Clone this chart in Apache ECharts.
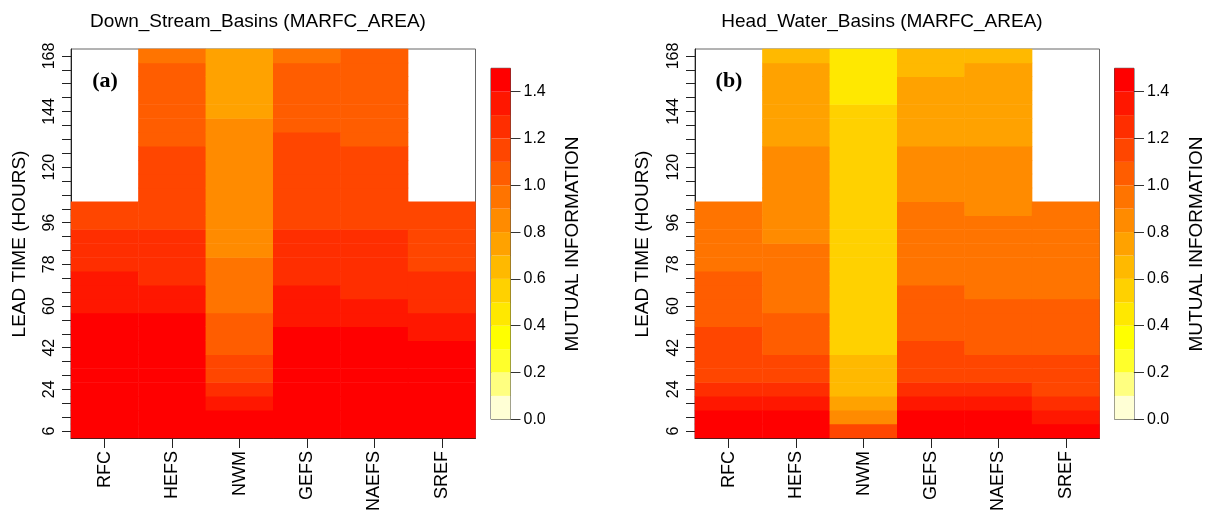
<!DOCTYPE html>
<html>
<head>
<meta charset="utf-8">
<title>Mutual information by lead time</title>
<script src="https://cdn.jsdelivr.net/npm/echarts@6/dist/echarts.min.js"></script>
<style>
  html, body { margin: 0; padding: 0; background: #ffffff; }
  #chart { width: 1211px; height: 514px; }
</style>
</head>
<body>
<div id="chart"></div>
<script>
// Forecast systems (columns) and lead times in hours (rows, bottom to top)
const systems = ['RFC', 'HEFS', 'NWM', 'GEFS', 'NAEFS', 'SREF'];
const leadTimes = [6, 12, 18, 24, 30, 36, 42, 48, 54, 60, 66, 72, 78, 84, 90, 96,
                   102, 108, 114, 120, 126, 132, 138, 144, 150, 156, 162, 168];
const leadTimeLabels = [6, 24, 42, 60, 78, 96, 120, 144, 168];
const colorbarTicks = [0.0, 0.2, 0.4, 0.6, 0.8, 1.0, 1.2, 1.4];

// Mutual information, Down_Stream_Basins, one value per lead time (6 h ... 168 h)
const dsRFC   = [1.45,1.45,1.45,1.45,1.45,1.45,1.45,1.45,1.45,1.35,1.35,1.35,1.25,1.25,1.25,1.15,1.15,
                 null,null,null,null,null,null,null,null,null,null,null];
const dsHEFS  = [1.45,1.45,1.45,1.45,1.45,1.45,1.45,1.45,1.45,1.35,1.35,1.25,1.25,1.25,1.25,1.15,1.15,
                 1.15,1.15,1.15,1.15,1.05,1.05,1.05,1.05,1.05,1.05,0.95];
const dsNWM   = [1.45,1.45,1.35,1.25,1.15,1.15,1.05,1.05,1.05,0.95,0.95,0.95,0.95,0.85,0.85,0.85,0.85,
                 0.85,0.85,0.85,0.85,0.85,0.85,0.75,0.75,0.75,0.75,0.75];
const dsGEFS  = [1.45,1.45,1.45,1.45,1.45,1.45,1.45,1.45,1.35,1.35,1.35,1.25,1.25,1.25,1.25,1.15,1.15,
                 1.15,1.15,1.15,1.15,1.15,1.05,1.05,1.05,1.05,1.05,0.95];
const dsNAEFS = [1.45,1.45,1.45,1.45,1.45,1.45,1.45,1.45,1.35,1.35,1.25,1.25,1.25,1.25,1.25,1.15,1.15,
                 1.15,1.15,1.15,1.15,1.05,1.05,1.05,1.05,1.05,1.05,1.05];
const dsSREF  = [1.45,1.45,1.45,1.45,1.45,1.45,1.45,1.35,1.35,1.25,1.25,1.25,1.15,1.15,1.15,1.15,1.15,
                 null,null,null,null,null,null,null,null,null,null,null];

// Mutual information, Head_Water_Basins
const hwRFC   = [1.45,1.45,1.35,1.25,1.15,1.15,1.15,1.15,1.05,1.05,1.05,1.05,0.95,0.95,0.95,0.95,0.95,
                 null,null,null,null,null,null,null,null,null,null,null];
const hwHEFS  = [1.45,1.45,1.35,1.25,1.15,1.15,1.05,1.05,1.05,0.95,0.95,0.95,0.95,0.95,0.85,0.85,0.85,
                 0.85,0.85,0.85,0.85,0.75,0.75,0.75,0.75,0.75,0.75,0.65];
const hwNWM   = [1.15,0.85,0.75,0.65,0.65,0.65,0.55,0.55,0.55,0.55,0.55,0.55,0.55,0.55,0.55,0.55,0.55,
                 0.55,0.55,0.55,0.55,0.55,0.55,0.55,0.45,0.45,0.45,0.45];
const hwGEFS  = [1.45,1.45,1.35,1.25,1.15,1.15,1.15,1.05,1.05,1.05,1.05,0.95,0.95,0.95,0.95,0.95,0.95,
                 0.85,0.85,0.85,0.85,0.75,0.75,0.75,0.75,0.75,0.65,0.65];
const hwNAEFS = [1.45,1.45,1.35,1.25,1.15,1.15,1.05,1.05,1.05,1.05,0.95,0.95,0.95,0.95,0.95,0.95,0.85,
                 0.85,0.85,0.85,0.85,0.75,0.75,0.75,0.75,0.75,0.75,0.65];
const hwSREF  = [1.45,1.35,1.25,1.15,1.15,1.15,1.05,1.05,1.05,1.05,0.95,0.95,0.95,0.95,0.95,0.95,0.95,
                 null,null,null,null,null,null,null,null,null,null,null];

// Colour levels 0.0-1.5 in steps of 0.1 (light cream -> red)
const levelBreaks = [0.0, 0.1, 0.2, 0.3, 0.4, 0.5, 0.6, 0.7, 0.8, 0.9, 1.0, 1.1, 1.2, 1.3, 1.4, 1.5];
const palette = ['#FFFFD5', '#FFFF80', '#FFFF2B', '#FFFF00', '#FFE800', '#FFD100', '#FFB900', '#FFA200',
                 '#FF8B00', '#FF7400', '#FF5D00', '#FF4600', '#FF2E00', '#FF1700', '#FF0000'];

const FONT = '"Liberation Sans", Arial, Helvetica, sans-serif';

function cells(columns) {
  const out = [];
  columns.forEach((col, c) => {
    col.forEach((v, r) => { if (v !== null) out.push([c, r, v]); });
  });
  return out;
}

const pieces = palette.map((color, i) => (
  i === palette.length - 1
    ? { gte: levelBreaks[i], lte: levelBreaks[i + 1], color }
    : { gte: levelBreaks[i], lt: levelBreaks[i + 1], color }
));

const colorbarData = palette.map((_, i) => [0, levelBreaks[i], levelBreaks[i + 1], i]);

const panels = [
  { left: 71,  barLeft: 491 },
  { left: 695, barLeft: 1114.5 }
];

const grids = [], xAxes = [], yAxes = [];
panels.forEach((p) => {
  grids.push({ left: p.left, top: 49, width: 404.5, height: 389, show: true,
               borderColor: '#666', borderWidth: 1, backgroundColor: 'transparent' });
  grids.push({ left: p.barLeft, top: 68.3, width: 19.5, height: 351, show: true,
               borderColor: '#444', borderWidth: 1, backgroundColor: 'transparent' });
});

[0, 2].forEach((g) => {
  xAxes.push({
    type: 'category', gridIndex: g, data: systems, boundaryGap: true,
    axisLine: { show: true, lineStyle: { color: '#222', width: 1 } },
    axisTick: { show: true, alignWithLabel: true, length: 10, lineStyle: { color: '#222' } },
    axisLabel: { rotate: 90, margin: 13, color: '#000', fontFamily: FONT, fontSize: 18 },
    splitLine: { show: false }
  });
  yAxes.push({
    type: 'category', gridIndex: g, data: leadTimes.map(String), boundaryGap: true,
    axisLine: { show: true, lineStyle: { color: '#222', width: 1 } },
    axisTick: { show: true, alignWithLabel: true, interval: 0, length: 9, lineStyle: { color: '#222' } },
    axisLabel: {
      rotate: 90, margin: 13, color: '#000', fontFamily: FONT, fontSize: 16,
      interval: (idx, value) => leadTimeLabels.includes(Number(value))
    },
    splitLine: { show: false }
  });
  xAxes.push({
    type: 'category', gridIndex: g + 1, data: [''], boundaryGap: true,
    axisLine: { show: false }, axisTick: { show: false }, axisLabel: { show: false }
  });
  yAxes.push({
    type: 'value', gridIndex: g + 1, min: 0, max: 1.5, position: 'right',
    axisLine: { show: false },
    axisTick: { show: true, length: 10, customValues: colorbarTicks, lineStyle: { color: '#333' } },
    axisLabel: { customValues: colorbarTicks, margin: 13, color: '#000', fontFamily: FONT, fontSize: 16,
                 formatter: (v) => v.toFixed(1) },
    splitLine: { show: false }
  });
});

function colorbarSeries(axisIdx) {
  return {
    type: 'custom', xAxisIndex: axisIdx, yAxisIndex: axisIdx, silent: true,
    data: colorbarData, encode: { x: 0, y: [1, 2] },
    renderItem: (params, api) => {
      const lo = api.coord([0, api.value(1)]);
      const hi = api.coord([0, api.value(2)]);
      const w = api.size([1, 0])[0];
      return { type: 'rect',
               shape: { x: lo[0] - w / 2, y: hi[1], width: w, height: lo[1] - hi[1] },
               style: { fill: palette[api.value(3)], stroke: null } };
    }
  };
}

function textEl(text, x, y, size, opts) {
  return Object.assign({
    type: 'text', x, y, silent: true,
    style: { text, fill: '#000', font: size + 'px ' + FONT,
             textAlign: 'center', textVerticalAlign: 'middle', align: 'center', verticalAlign: 'middle' }
  }, opts || {});
}

const option = {
  backgroundColor: '#ffffff',
  animation: false,
  grid: grids,
  xAxis: xAxes,
  yAxis: yAxes,
  visualMap: { type: 'piecewise', show: false, seriesIndex: [0, 1], dimension: 2, pieces },
  series: [
    { type: 'heatmap', xAxisIndex: 0, yAxisIndex: 0,
      data: cells([dsRFC, dsHEFS, dsNWM, dsGEFS, dsNAEFS, dsSREF]) },
    { type: 'heatmap', xAxisIndex: 2, yAxisIndex: 2,
      data: cells([hwRFC, hwHEFS, hwNWM, hwGEFS, hwNAEFS, hwSREF]) },
    colorbarSeries(1),
    colorbarSeries(3)
  ],
  graphic: [
    textEl('Down_Stream_Basins (MARFC_AREA)', 258, 22, 19),
    textEl('Head_Water_Basins (MARFC_AREA)', 882, 22, 19),
    textEl('LEAD TIME (HOURS)', 20, 244, 19, { rotation: Math.PI / 2 }),
    textEl('LEAD TIME (HOURS)', 643, 244, 19, { rotation: Math.PI / 2 }),
    textEl('MUTUAL INFORMATION', 573, 244, 19, { rotation: Math.PI / 2 }),
    textEl('MUTUAL INFORMATION', 1197, 244, 19, { rotation: Math.PI / 2 }),
    { type: 'text', x: 105, y: 81, silent: true,
      style: { text: '(a)', fill: '#000', font: 'bold 22px "Liberation Serif", "Times New Roman", serif',
               textAlign: 'center', textVerticalAlign: 'middle', align: 'center', verticalAlign: 'middle' } },
    { type: 'text', x: 729, y: 81, silent: true,
      style: { text: '(b)', fill: '#000', font: 'bold 22px "Liberation Serif", "Times New Roman", serif',
               textAlign: 'center', textVerticalAlign: 'middle', align: 'center', verticalAlign: 'middle' } }
  ]
};

const chart = echarts.init(document.getElementById('chart'), null, { renderer: 'canvas' });
chart.setOption(option);
</script>
</body>
</html>
